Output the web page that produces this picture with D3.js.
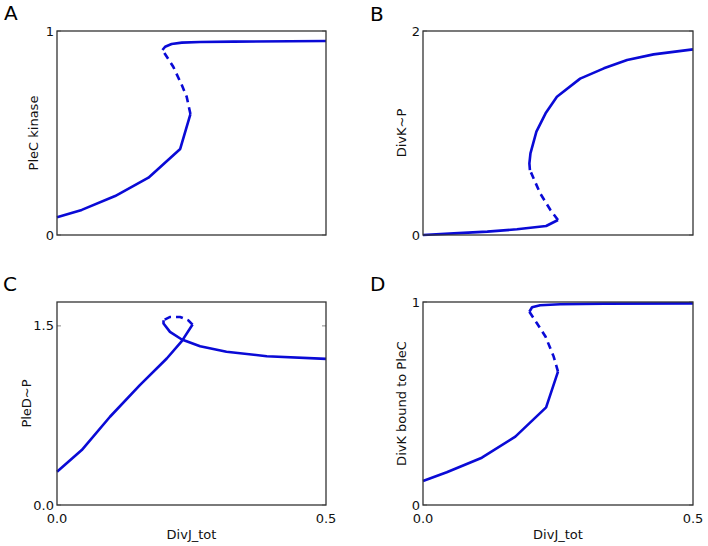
<!DOCTYPE html>
<html><head><meta charset="utf-8">
<script src="https://cdn.jsdelivr.net/npm/d3@7"></script>
<style>body{margin:0;background:#fff}svg{display:block}text{font-family:"DejaVu Sans",sans-serif}</style>
</head><body>
<svg id="c" width="708" height="546"></svg>
<script>
const xTicks = [0.0, 0.5];
const xLabel = "DivJ_tot";

// Panel A: PleC kinase
const aLow  = [[0,0.087],[0.046,0.123],[0.108,0.191],[0.170,0.281],[0.229,0.422],[0.248,0.593]];
const aMid  = [[0.248,0.593],[0.241,0.678],[0.232,0.735],[0.216,0.825],[0.196,0.907]];
const aHigh = [[0.196,0.907],[0.201,0.923],[0.213,0.936],[0.232,0.943],[0.266,0.946],[0.328,0.948],[0.5,0.951]];
// Panel B: DivK~P
const bLow  = [[0,0],[0.057,0.016],[0.119,0.033],[0.174,0.056],[0.228,0.088],[0.250,0.147]];
const bMid  = [[0.250,0.147],[0.236,0.245],[0.217,0.408],[0.198,0.637]];
const bHigh = [[0.198,0.637],[0.197,0.703],[0.199,0.801],[0.210,1.013],[0.227,1.193],[0.248,1.356],[0.291,1.533],[0.335,1.634],[0.378,1.716],[0.427,1.771],[0.5,1.820]];
// Panel C: PleD~P
const cLow  = [[0,0.279],[0.046,0.460],[0.0985,0.739],[0.154,1.004],[0.204,1.227],[0.232,1.372],[0.252,1.511]];
const cMid  = [[0.252,1.511],[0.244,1.547],[0.229,1.575],[0.210,1.575],[0.198,1.547]];
const cHigh = [[0.198,1.547],[0.198,1.520],[0.210,1.450],[0.232,1.386],[0.266,1.330],[0.315,1.283],[0.390,1.246],[0.5,1.224]];
// Panel D: DivK bound to PleC
const dLow  = [[0,0.118],[0.044,0.161],[0.109,0.233],[0.171,0.337],[0.228,0.481],[0.250,0.657]];
const dMid  = [[0.250,0.657],[0.242,0.731],[0.227,0.829],[0.211,0.895],[0.197,0.952]];
const dHigh = [[0.197,0.952],[0.202,0.974],[0.217,0.984],[0.254,0.989],[0.335,0.992],[0.5,0.993]];

const panels = [
  {letter:"A", ylabel:"PleC kinase", yMax:1, yTicks:[0,1], fmt:d=>String(d), low:aLow, mid:aMid, high:aHigh, xlab:false},
  {letter:"B", ylabel:"DivK~P", yMax:2, yTicks:[0,2], fmt:d=>String(d), low:bLow, mid:bMid, high:bHigh, xlab:false},
  {letter:"C", ylabel:"PleD~P", yMax:1.7, yTicks:[0,1.5], fmt:d3.format(".1f"), low:cLow, mid:cMid, high:cHigh, xlab:true},
  {letter:"D", ylabel:"DivK bound to PleC", yMax:1, yTicks:[0,1], fmt:d=>String(d), low:dLow, mid:dMid, high:dHigh, xlab:true}
];
const boxes = [
  {x0:57,x1:326,y0:31,y1:235, lx:4, ly:20, ylx:33},
  {x0:423,x1:693,y0:31,y1:235, lx:370, ly:21, ylx:401},
  {x0:57,x1:326,y0:302,y1:505, lx:3, ly:291, ylx:26},
  {x0:423,x1:693,y0:302,y1:505, lx:370, ly:291, ylx:401}
];
const svg = d3.select("#c");
const blue = "#0a0ad6";

panels.forEach((p,i)=>{
  const b = boxes[i];
  const x = d3.scaleLinear().domain([0,0.5]).range([b.x0,b.x1]);
  const y = d3.scaleLinear().domain([0,p.yMax]).range([b.y1,b.y0]);
  const g = svg.append("g");
  const line = d3.line().x(d=>x(d[0])).y(d=>y(d[1]));
  // inward ticks on both sides
  p.yTicks.forEach(t=>{
    g.append("line").attr("x1",b.x0).attr("x2",b.x0+4).attr("y1",y(t)).attr("y2",y(t)).attr("stroke","#888").attr("stroke-width",1);
    g.append("line").attr("x1",b.x1).attr("x2",b.x1-4).attr("y1",y(t)).attr("y2",y(t)).attr("stroke","#888").attr("stroke-width",1);
    g.append("text").attr("x",b.x0-3).attr("y",y(t)).attr("dy","0.35em").attr("text-anchor","end").attr("font-size",13).attr("fill","#111").text(p.fmt(t));
  });
  [p.low,p.high].forEach(s=>g.append("path").attr("d",line(s)).attr("fill","none").attr("stroke",blue).attr("stroke-width",2.6).attr("stroke-linejoin","round"));
  g.append("path").attr("d",line(p.mid)).attr("fill","none").attr("stroke",blue).attr("stroke-width",2.6).attr("stroke-dasharray","7,5");
  g.append("rect").attr("x",b.x0).attr("y",b.y0).attr("width",b.x1-b.x0).attr("height",b.y1-b.y0).attr("fill","none").attr("stroke","#333").attr("stroke-width",1.3);
  g.append("text").attr("x",b.lx).attr("y",b.ly).attr("font-size",20).attr("fill","#000").text(p.letter);
  g.append("text").attr("transform",`translate(${b.ylx},${(b.y0+b.y1)/2}) rotate(-90)`).attr("dy","0.35em").attr("text-anchor","middle").attr("font-size",13).attr("fill","#111").text(p.ylabel);
  if(p.xlab){
    xTicks.forEach(t=>{
      g.append("text").attr("x",x(t)).attr("y",b.y1+13).attr("dy","0.35em").attr("text-anchor","middle").attr("font-size",13).attr("fill","#111").text(d3.format(".1f")(t));
    });
    g.append("text").attr("x",(b.x0+b.x1)/2).attr("y",b.y1+29).attr("dy","0.35em").attr("text-anchor","middle").attr("font-size",13).attr("fill","#111").text(xLabel);
  }
});
</script>
</body></html>
